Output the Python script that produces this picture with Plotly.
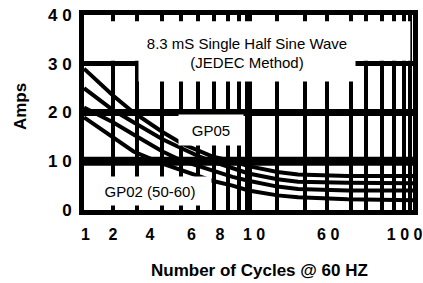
import plotly.graph_objects as go

# ---- data ----
cycles = [1, 1.5, 2, 3, 4, 5, 6, 8, 10, 15, 20, 40, 100]
curve_a = [29, 23.5, 20, 16, 13.5, 12, 11, 10, 9, 7.8, 7.3, 7, 7]
curve_b = [25, 20.5, 18, 14.5, 12.5, 11, 10, 8.5, 7.5, 6.3, 5.8, 5.6, 5.5]
curve_c = [21, 18, 15.5, 12, 10, 9, 8, 6.8, 6, 4.8, 4.3, 4, 4]
curve_d = [19, 15, 12, 9.5, 8, 7, 6, 5, 4, 3, 2.6, 2.2, 2]

grid_x = [1.5, 2.1, 3, 3.9, 4.9, 6.2, 7.5, 8.8, 10, 15, 22, 30, 42, 52, 65, 77, 88, 96]
label_pos = [1.02, 1.5, 2.52, 4.5, 6.7, 10.8, 30.5, 89]
label_txt = ["1", "2", "4", "6", "8", "1 0", "6 0", "1 0 0"]
y_ticks = [0, 10, 20, 30, 40]
y_labels = ["0", "1 0", "2 0", "3 0", "4 0"]

FONT = "Liberation Sans, Arial, sans-serif"

fig = go.Figure()
for ys in (curve_a, curve_b, curve_c, curve_d):
    fig.add_trace(go.Scatter(x=cycles, y=ys, mode="lines",
                             line=dict(color="black", width=4),
                             showlegend=False, hoverinfo="skip"))
# invisible trace on the label axis so that it is drawn
fig.add_trace(go.Scatter(x=[1, 100], y=[0, 0], xaxis="x2", mode="markers",
                         marker=dict(opacity=0), showlegend=False,
                         hoverinfo="skip"))

fig.update_layout(
    width=423, height=283,
    margin=dict(l=84, r=10, t=15, b=73, autoexpand=False),
    paper_bgcolor="white", plot_bgcolor="white",
    xaxis=dict(type="log", range=[0, 2], tickvals=grid_x,
               ticktext=[""] * len(grid_x), automargin=False,
               showgrid=True, gridcolor="black", gridwidth=4,
               ticks="inside", ticklen=6, tickwidth=4, tickcolor="black",
               showline=True, linecolor="black", linewidth=5, mirror="ticks",
               zeroline=False),
    xaxis2=dict(type="log", range=[0, 2], overlaying="x", anchor="y",
                side="bottom", tickvals=label_pos, ticktext=label_txt,
                automargin=False,
                showgrid=False, showline=False, ticks="outside", ticklen=10,
                tickcolor="rgba(0,0,0,0)", zeroline=False,
                tickfont=dict(family=FONT, size=16, color="black", weight="bold")),
    yaxis=dict(range=[0, 40], tickvals=y_ticks, ticktext=y_labels,
               automargin=False,
               showgrid=True, gridcolor="black", gridwidth=5,
               showline=True, linecolor="black", linewidth=5, mirror=True,
               ticks="outside", ticklen=4, tickcolor="rgba(0,0,0,0)",
               zeroline=False,
               tickfont=dict(family=FONT, size=17, color="black", weight="bold")),
)

# emphasised grid lines
fig.add_shape(type="line", xref="x domain", yref="y", x0=0, x1=1, y0=10, y1=10,
              line=dict(color="black", width=9), layer="below")
fig.add_shape(type="line", xref="x domain", yref="y", x0=0, x1=1, y0=20, y1=20,
              line=dict(color="black", width=7), layer="below")
fig.add_shape(type="line", xref="x", yref="y domain", x0=10, x1=10, y0=0, y1=1,
              line=dict(color="black", width=7), layer="below")
# blank area above 30 (grid only goes up to 30), keeping the top tick stubs
fig.add_shape(type="rect", xref="x domain", yref="y", x0=0.008, x1=0.992,
              y0=30.6, y1=38.7, fillcolor="white", line=dict(width=0),
              layer="above")

common = dict(xref="paper", yref="paper", showarrow=False,
              xanchor="center", yanchor="middle")
fig.add_annotation(text="8.3 mS Single Half Sine Wave<br>(JEDEC Method)",
                   x=0.495, y=0.805, bgcolor="white", width=214, height=54,
                   font=dict(family=FONT, size=15, color="black"), **common)
fig.add_annotation(text="GP05", x=0.385, y=0.41, bgcolor="white",
                   width=62, height=28,
                   font=dict(family=FONT, size=15, color="black"), **common)
fig.add_annotation(text="GP02 (50-60)", x=0.2, y=0.097, bgcolor="white",
                   width=120, height=26,
                   font=dict(family=FONT, size=15, color="black"), **common)
fig.add_annotation(text="Amps", x=-0.1945, y=0.528, textangle=-90,
                   font=dict(family=FONT, size=17, color="black", weight="bold"),
                   **common)
fig.add_annotation(text="Number of Cycles @ 60 HZ", x=0.533, y=-0.308,
                   font=dict(family=FONT, size=17, color="black", weight="bold"),
                   **common)

fig.write_html("out.html", config={"displayModeBar": False},
               post_script="document.body.style.margin='0';"
                           "document.body.style.overflow='hidden';")
